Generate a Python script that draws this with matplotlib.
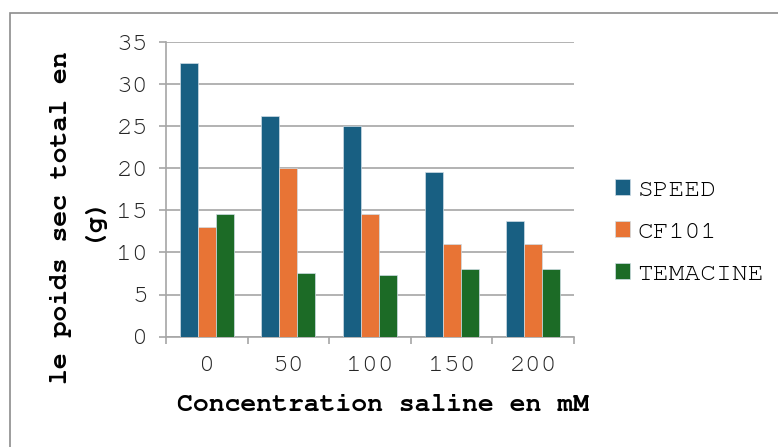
import numpy as np
import matplotlib.pyplot as plt
from matplotlib.patches import Rectangle

# concentrations (mM) et poids sec total (g) par variété
concentrations = ['0', '50', '100', '150', '200']
speed = [32.6, 26.3, 25.0, 19.6, 13.7]
cf101 = [13.0, 20.0, 14.6, 11.0, 11.0]
temacine = [14.6, 7.6, 7.3, 8.0, 8.0]

series = [('SPEED', speed, '#185F82'),
          ('CF101', cf101, '#E87435'),
          ('TEMACINE', temacine, '#1C6B26')]

plt.rcParams['font.family'] = ['FreeMono', 'TeX Gyre Cursor', 'Liberation Mono', 'DejaVu Sans Mono']

W, H = 778, 447
fig = plt.figure(figsize=(W / 100, H / 100), dpi=100)
ax = fig.add_axes([166 / W, 110.5 / H, 408 / W, 294 / H])

# cadre gris autour du graphique
fig.patches.append(Rectangle((10 / W, -0.1), 1.2, 1 - 13 / H + 0.1,
                             transform=fig.transFigure, fill=False,
                             edgecolor='#8c8c8c', linewidth=1.2))

x = np.arange(len(concentrations))
bw = 0.22
for i, (name, vals, col) in enumerate(series):
    ax.bar(x + (i - 1) * bw, vals, width=bw, color=col, label=name,
           edgecolor='#cfdde6', linewidth=0.5, zorder=3)

ax.set_xlim(-0.5, len(concentrations) - 0.5)
ax.set_ylim(0, 35)
ax.set_yticks(np.arange(0, 36, 5))
ax.yaxis.grid(True, color='#a6a6a6', linewidth=1.2, zorder=0)

ax.set_xticks(x)
ax.set_xticklabels(concentrations)
ax.set_xticks(np.arange(-0.5, len(concentrations)), minor=True)
ax.tick_params(axis='x', which='major', length=0, pad=14, labelsize=19, colors='#262626')
ax.tick_params(axis='x', which='minor', length=5, width=1.2, color='#a6a6a6')
ax.tick_params(axis='y', length=5, width=1.2, color='#a6a6a6', pad=8, labelsize=19,
               labelcolor='#262626')

for s in ['top', 'right']:
    ax.spines[s].set_visible(False)
for s in ['left', 'bottom']:
    ax.spines[s].set_color('#a6a6a6')
    ax.spines[s].set_linewidth(1.2)

fig.text(383 / W, 1 - 405 / H, 'Concentration saline en mM', ha='center', va='center',
         fontsize=19, fontweight='bold')
# titre de l'axe y sur deux lignes, placé par sa ligne de base
for label, xb in [('le poids sec total en', 67), ('(g)', 96)]:
    fig.text(xb / W, 1 - 217.5 / H, label, ha='center', va='baseline',
             rotation=90, rotation_mode='anchor', fontsize=19, fontweight='bold')

fig.legend(loc='center left', bbox_to_anchor=(615 / W, 1 - 232 / H), frameon=False,
           fontsize=19, handlelength=0.55, handleheight=0.55, handletextpad=0.3,
           labelspacing=0.75, borderpad=0, borderaxespad=0)

fig.savefig('out.png', dpi=100)
